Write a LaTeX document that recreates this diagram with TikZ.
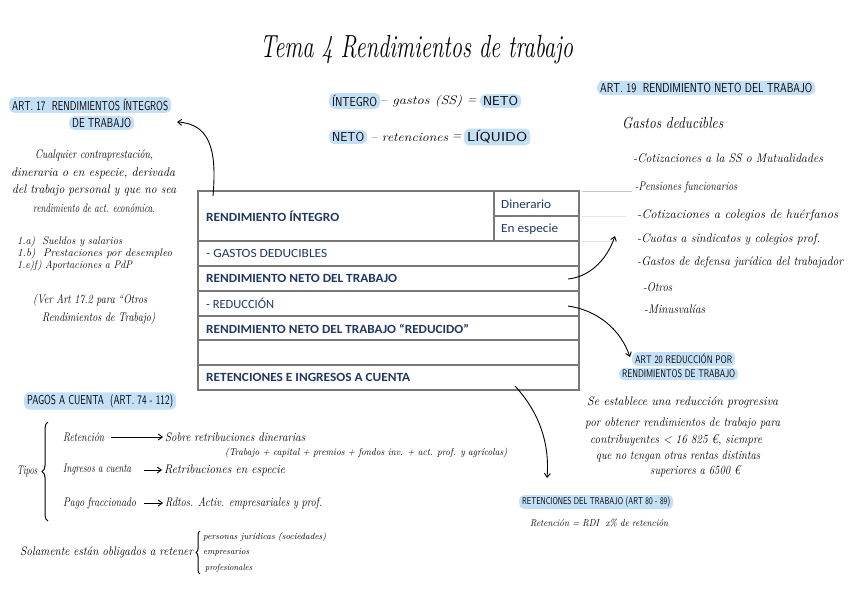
\documentclass[tikz,border=0pt]{standalone}
\usepackage{fontspec}
\usepackage{graphicx}
\usetikzlibrary{arrows.meta,decorations.pathreplacing}
\newfontfamily\carlito{Carlito}
\definecolor{tblue}{RGB}{31,56,100}
\definecolor{grid}{RGB}{120,120,120}
\definecolor{hl}{RGB}{196,224,247}
\newcommand\fw[2]{\resizebox{#1pt}{\height}{#2}}
\tikzset{
  hw/.style={font=\fontsize{12.5}{14}\selectfont\itshape, inner sep=0pt, anchor=west},
  hws/.style={font=\fontsize{10}{12}\selectfont\itshape, inner sep=0pt, anchor=west},
  hc/.style={font=\fontsize{13}{15}\selectfont\sffamily, inner sep=0pt, anchor=west},
  hcs/.style={font=\fontsize{11}{13}\selectfont\sffamily, inner sep=0pt, anchor=west},
  hlb/.style={fill=hl, rounded corners=5pt, inner xsep=3pt, inner ysep=2pt},
  tb/.style={font=\fontsize{12.5}{14}\selectfont\carlito\bfseries, text=tblue, inner sep=0pt, anchor=west},
  tr/.style={font=\fontsize{12.5}{14}\selectfont\carlito, text=tblue, inner sep=0pt, anchor=west},
  tline/.style={draw=grid, line width=1.2pt},
  arr/.style={-{Straight Barb[length=4pt,width=6pt]}, line width=0.9pt, black},
  brc/.style={decorate, line width=1pt}
}
\begin{document}
\begin{tikzpicture}[x=1pt,y=-1pt]
\useasboundingbox (0,0) rectangle (848,599);
\fill[white] (0,0) rectangle (848,599);

% title
\node[font=\fontsize{32}{36}\selectfont\itshape, inner sep=0pt, anchor=west] (title) at (260,50) {\fw{313}{Tema 4 Rendimientos de trabajo}};

% formulas
\node[hc,hlb] (f1a) at (329,101) {\fw{45}{ÍNTEGRO}};
\node[hw] (f1b) at (380,101) {\fw{82}{– gastos (SS)}};
\node[hw] (f1c) at (467,101) {=};
\node[hc,hlb] (f1d) at (480,101) {\fw{35}{NETO}};
\node[hc,hlb] (f2a) at (329,137) {\fw{32}{NETO}};
\node[hw] (f2b) at (370,137) {\fw{78}{– retenciones}};
\node[hw] (f2c) at (452,137) {=};
\node[hc,hlb] (f2d) at (464,137) {\fw{60}{LÍQUIDO}};

% table
\draw[tline] (198,191) rectangle (579,390);
\foreach \yy in {241,266,291,316,340,365} \draw[tline] (198,\yy) -- (579,\yy);
\draw[tline] (494,191) -- (494,241);
\draw[tline] (494,216) -- (579,216);
\draw[gray!45, line width=1pt] (582,191.5) -- (632,191.5);
\draw[gray!20, line width=1pt] (582,216) -- (626,216);
\draw[gray!20, line width=1pt] (582,241) -- (616,241);
\node[tb] (ri) at (206,216) {\fw{133}{RENDIMIENTO ÍNTEGRO}};
\node[tr] (din) at (501,204) {\fw{50}{Dinerario}};
\node[tr] (esp) at (501,229) {\fw{57}{En especie}};
\node[tr] (gd) at (206,253.5) {\fw{121}{- GASTOS DEDUCIBLES}};
\node[tb] (rn) at (206,278.5) {\fw{191}{RENDIMIENTO NETO DEL TRABAJO}};
\node[tr] (red) at (206,303.5) {\fw{68}{- REDUCCIÓN}};
\node[tb] (rnr) at (206,328.5) {\fw{263}{RENDIMIENTO NETO DEL TRABAJO “REDUCIDO”}};
\node[tb] (ret) at (206,377.5) {\fw{204}{RETENCIONES E INGRESOS A CUENTA}};

% art 17
\node[hc,hlb] (a17h1) at (9,105) {\fw{156}{ART. 17\ \ RENDIMIENTOS ÍNTEGROS}};
\node[hc,hlb] (a17h2) at (69,123) {\fw{59}{DE TRABAJO}};
\node[hw] (p1) at (35,155) {\fw{118}{Cualquier contraprestación,}};
\node[hw] (p2) at (11,173) {\fw{164}{dineraria o en especie, derivada}};
\node[hw] (p3) at (12,190) {\fw{164}{del trabajo personal y que no sea}};
\node[hw] (p4) at (33,208) {\fw{122}{rendimiento de act. económica.}};
\node[hw,font=\fontsize{11}{12}\selectfont\itshape] (l1) at (17,242) {\fw{105}{1.a)\ \ Sueldos y salarios}};
\node[hw,font=\fontsize{11}{12}\selectfont\itshape] (l2) at (17,254) {\fw{155}{1.b)\ \ Prestaciones por desempleo}};
\node[hw,font=\fontsize{11}{12}\selectfont\itshape] (l3) at (17,266) {\fw{115}{1.e)f)\ Aportaciones a PdP}};
\node[hw] (v1) at (33,300) {\fw{114}{(Ver Art 17.2 para “Otros}};
\node[hw] (v2) at (42,318) {\fw{113}{Rendimientos de Trabajo)}};

% art 19
\node[hc,hlb] (a19h) at (597,88) {\fw{212}{ART. 19\ \ RENDIMIENTO NETO DEL TRABAJO}};
\node[hw,font=\fontsize{16}{18}\selectfont\itshape] (g) at (622,123) {\fw{101}{Gastos deducibles}};
\node[hw] (g1) at (633,158) {\fw{190}{-Cotizaciones a la SS o Mutualidades}};
\node[hw] (g2) at (635,187) {\fw{102}{-Pensiones funcionarios}};
\node[hw] (g3) at (637,215) {\fw{201}{-Cotizaciones a colegios de huérfanos}};
\node[hw] (g4) at (637,239) {\fw{183}{-Cuotas a sindicatos y colegios prof.}};
\node[hw] (g5) at (637,262) {\fw{206}{-Gastos de defensa jurídica del trabajador}};
\node[hw] (g6) at (643,287) {\fw{29}{-Otros}};
\node[hw] (g7) at (644,309) {\fw{61}{-Minusvalías}};

% art 20
\node[hcs,hlb] (a20h1) at (632,359) {\fw{97}{ART 20 REDUCCIÓN POR}};
\node[hcs,hlb] (a20h2) at (619,374) {\fw{113}{RENDIMIENTOS DE TRABAJO}};
\node[hw] (s1) at (587,402) {\fw{191}{Se establece una reducción progresiva}};
\node[hw] (s2) at (585,423) {\fw{195}{por obtener rendimientos de trabajo para}};
\node[hw] (s3) at (590,440) {\fw{172}{contribuyentes < 16 825 €, siempre}};
\node[hw] (s4) at (596,456) {\fw{164}{que no tengan otras rentas distintas}};
\node[hw] (s5) at (650,471) {\fw{90}{superiores a 6500 €}};

% retenciones
\node[hcs,hlb,font=\fontsize{10}{12}\selectfont\sffamily] (r80h) at (519,502) {\fw{148}{RETENCIONES DEL TRABAJO (ART 80 - 89)}};
\node[hws] (r80t) at (530,523) {\fw{138}{Retención = RDI\ \ x\% de retención}};

% pagos a cuenta
\node[hc,hlb] (ph) at (24,401) {\fw{146}{PAGOS A CUENTA\ \ (ART. 74 - 112)}};
\node[hw] (tipos) at (17,471) {\fw{20}{Tipos}};
\node[hw] (pret) at (63,437) {\fw{41}{Retención}};
\node[hw] (psob) at (165,437) {\fw{140}{Sobre retribuciones dinerarias}};
\node[hws] (ptrab) at (225,453) {\fw{282}{(Trabajo + capital + premios + fondos inv. + act. prof. y agrícolas)}};
\node[hw] (ping) at (63,470) {\fw{68}{Ingresos a cuenta}};
\node[hw] (pres) at (164,470) {\fw{121}{Retribuciones en especie}};
\node[hw] (ppago) at (63,503) {\fw{73}{Pago fraccionado}};
\node[hw] (prdt) at (165,503) {\fw{157}{Rdtos. Activ. empresariales y prof.}};
\node[hw] (sol) at (20,552) {\fw{173}{Solamente están obligados a retener}};
\node[hws,font=\fontsize{9}{10}\selectfont\itshape] (sol1) at (203,537) {\fw{123}{personas jurídicas (sociedades)}};
\node[hws,font=\fontsize{9}{10}\selectfont\itshape] (sol2) at (203,552) {\fw{46}{empresarios}};
\node[hws,font=\fontsize{9}{10}\selectfont\itshape] (sol3) at (205,568) {\fw{47}{profesionales}};

\draw[brc, decoration={brace, amplitude=6pt}] (48,521) -- (48,422);
\draw[brc, decoration={brace, amplitude=4pt}] (200,574) -- (200,531);

\draw[arr] ([xshift=7pt]pret.east) -- ([xshift=-2pt]psob.west);
\draw[arr] ([xshift=13pt]ping.east) -- ([xshift=-2pt]pres.west);
\draw[arr] ([xshift=8pt]ppago.east) -- ([xshift=-2pt]prdt.west);

% connectors from table
\coordinate (a17s) at (213,196);
\coordinate (a17e) at (177,122);
\coordinate (a19s) at (568,279);
\coordinate (a19e) at (615,236);
\coordinate (a20s) at (568,306);
\coordinate (a20e) at (630,357);
\coordinate (a80s) at (515,386);
\coordinate (a80e) at (547,478);
\draw[arr] (a17s) .. controls (217,150) and (210,124) .. (a17e);
\draw[arr] (a19s) .. controls (588,277) and (606,262) .. (a19e);
\draw[arr] (a20s) .. controls (596,310) and (620,328) .. (a20e);
\draw[arr] (a80s) .. controls (537,410) and (550,440) .. (a80e);
\end{tikzpicture}
\end{document}
